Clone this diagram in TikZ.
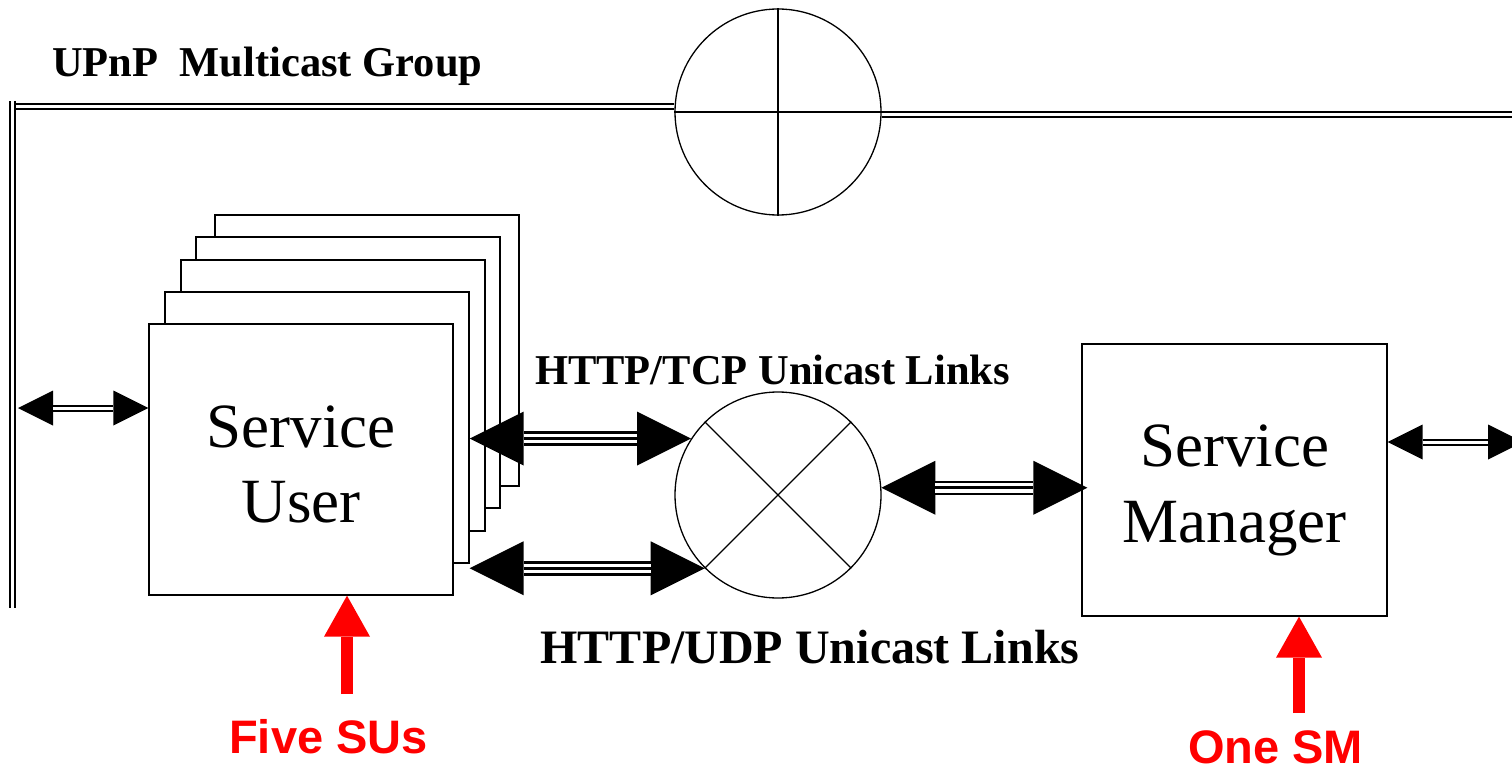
\documentclass[tikz,border=0pt]{standalone}
\usepackage{fontspec}
\setmainfont{Liberation Serif}
\newfontfamily\notefont{Liberation Sans}
\usetikzlibrary{arrows.meta}

\tikzset{
  bigtip/.tip={Triangle[length=54pt,width=54pt,line width=0pt]},
  smalltip/.tip={Triangle[length=35pt,width=35pt,line width=0pt]},
  redtip/.tip={Triangle[length=41pt,width=46pt,line width=0pt]},
  busline/.style={draw=black, line width=1.7pt, double=white, double distance=3pt},
  hub/.style={circle, draw=black, line width=1.3pt, minimum size=206pt, inner sep=0pt},
  spoke/.style={draw=black, line width=1.3pt},
  subox/.style={rectangle, draw=black, fill=white, line width=1.3pt,
    minimum width=304pt, minimum height=271pt, inner sep=0pt},
  boxtext/.style={font=\fontsize{63}{75}\selectfont, anchor=base, inner sep=0pt},
  linklabel/.style={font=\fontsize{42.5}{50}\selectfont\bfseries, inner sep=0pt},
  notetext/.style={font=\notefont\fontsize{47}{56}\selectfont\bfseries, text=red,
    anchor=base, inner sep=0pt},
  % twin-rail connector with small heads
  dblarrow/.style={draw=black, line width=7pt, {smalltip}-{smalltip},
    postaction={draw=white, line width=3pt, -, shorten <=35pt, shorten >=35pt}},
  % three-rail connector with large heads
  tplarrow/.style={draw=black, line width=14.5pt, {bigtip}-{bigtip},
    postaction={draw=white, line width=9.5pt, -, shorten <=54pt, shorten >=54pt},
    postaction={draw=black, line width=3pt, -, shorten <=54pt, shorten >=54pt}},
  redarrow/.style={draw=red, line width=12pt, -{redtip}},
}

\begin{document}
\begin{tikzpicture}[x=1pt,y=-1pt]
\useasboundingbox (0,0) rectangle (1512,770);
\clip (0,0) rectangle (1512,770);

% multicast bus
\coordinate (bustop) at (12.5,101);
\coordinate (busbot) at (12.5,608);
\coordinate (busstart) at (16,106.5);
\coordinate (busend) at (1520,114.5);
\node[hub] (tc) at (778,112) {};
\draw[spoke] (tc.west) -- (tc.east);
\draw[spoke] (tc.north) -- (tc.south);
\draw[busline] (bustop) -- (busbot);
\draw[busline] (busstart) -- (tc.west |- busstart);
\draw[busline] (tc.east |- busend) -- (busend);

\node[linklabel, anchor=base west] (upnp) at (52,77) {UPnP\ \ Multicast Group};

% stack of service users, back to front
\node[subox] (su5) at (367,350.5) {};
\node[subox] (su4) at (348,372.5) {};
\node[subox] (su3) at (333,395.5) {};
\node[subox] (su2) at (317,427.5) {};
\node[subox] (su)  at (301,459.5) {};
\node[boxtext] (sut1) at ([yshift=12.5pt]su.center) {Service};
\node[boxtext] (sut2) at ([yshift=-62.5pt]su.center) {User};

% unicast switch
\node[hub] (xc) at (778,495) {};
\draw[spoke] (xc.45) -- (xc.225);
\draw[spoke] (xc.135) -- (xc.315);

% service manager
\node[subox, minimum width=305pt, minimum height=272pt] (sm) at (1234.5,480) {};
\node[boxtext] (smt1) at ([yshift=14pt]sm.center) {Service};
\node[boxtext] (smt2) at ([yshift=-62pt]sm.center) {Manager};

% links
\coordinate (busin) at (18,408);
\coordinate (rightout) at (1523,442);
\coordinate (smin) at ([xshift=6pt]sm.west);
\draw[dblarrow] (busin) -- (su.west |- busin);
\draw[tplarrow] (su2.east |- xc.147.7) -- (xc.147.7);
\draw[tplarrow] (su2.east |- xc.225) -- (xc.225);
\draw[tplarrow] (xc.4) -- (smin |- xc.4);
\draw[dblarrow] (sm.east |- rightout) -- (rightout);

\node[linklabel, anchor=base] (tcp) at (772.5,384) {HTTP/TCP Unicast Links};
\node[linklabel, anchor=base, font=\fontsize{48}{56}\selectfont\bfseries] (udp) at (810,663) {HTTP/UDP Unicast Links};

% annotations
\coordinate (sufoot) at (347,694);
\coordinate (smfoot) at (1299,713);
\draw[redarrow] (sufoot) -- (sufoot |- su.south);
\draw[redarrow] (smfoot) -- (smfoot |- sm.south);
\node[notetext] (five) at (328.5,753) {Five SUs};
\node[notetext] (one) at (1275.5,763) {One SM};
\end{tikzpicture}
\end{document}
